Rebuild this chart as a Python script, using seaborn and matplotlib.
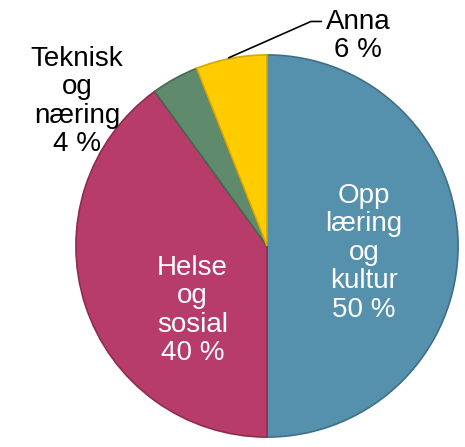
import matplotlib
matplotlib.use("Agg")
import matplotlib.pyplot as plt
import seaborn as sns

categories = ["Opp\nlæring\nog\nkultur", "Helse\nog\nsosial", "Teknisk\nog\nnæring", "Anna"]
shares = [50, 40, 4, 6]
colors = ["#5590ac", "#b83c6a", "#5f8a6c", "#ffcc00"]
edges = ["#3f7088", "#8e2c50", "#456a50", "#d9a800"]

sns.set_theme(style="white")
plt.rcParams["font.family"] = ["Liberation Sans", "DejaVu Sans"]

fig = plt.figure(figsize=(4.65, 4.47), dpi=100)
ax = fig.add_axes([74 / 465, 8 / 447, 386 / 465, 386 / 447])

wedges, _ = ax.pie(shares, colors=colors, startangle=90, counterclock=False,
                   wedgeprops=dict(linewidth=1.2))
for w, ec in zip(wedges, edges):
    w.set_edgecolor(ec)

labels = [f"{c}\n{v} %" for c, v in zip(categories, shares)]
style = dict(ha="center", va="center", fontsize=20, linespacing=1.12)
ax.text(0.508, -0.036, labels[0], color="white", **style)
ax.text(-0.389, -0.337, labels[1], color="white", **style)
ax.text(-0.995, 0.756, labels[2], color="black", **style)
ax.text(0.475, 1.098, labels[3], color="black", **style)
ax.plot([-0.20, 0.23, 0.285], [0.985, 1.175, 1.175], color="black", lw=1.2,
        clip_on=False)

ax.set_xlim(-1.01, 1.01)
ax.set_ylim(-1.01, 1.01)
ax.set_aspect("equal")
ax.axis("off")

fig.savefig("out.png", dpi=100)
